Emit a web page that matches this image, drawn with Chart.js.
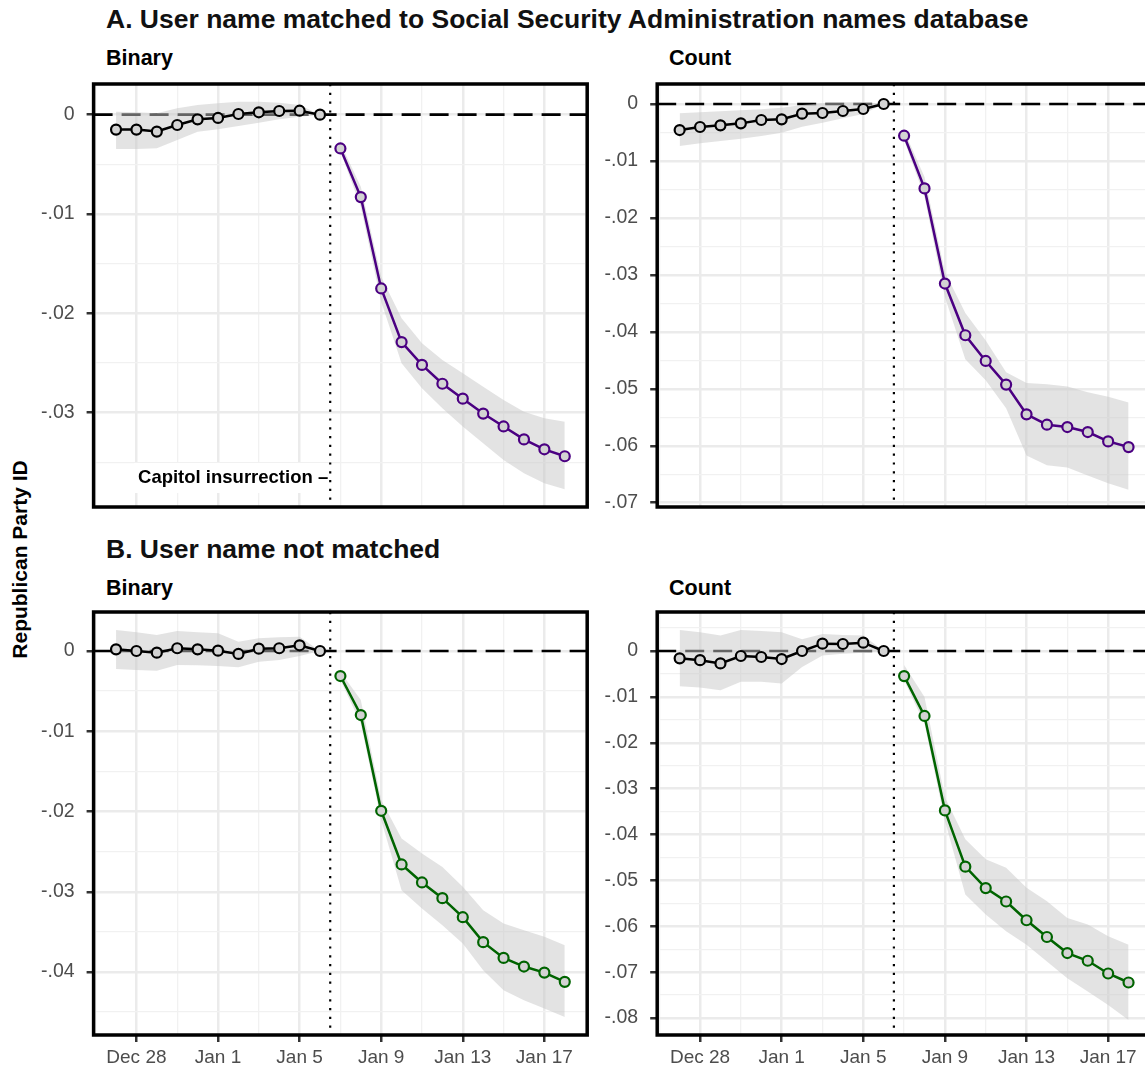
<!DOCTYPE html>
<html>
<head>
<meta charset="utf-8">
<title>Republican Party ID around the Capitol insurrection</title>
<script src="https://cdn.jsdelivr.net/npm/chart.js@4.4.1/dist/chart.umd.min.js"></script>
<style>
  html, body { margin: 0; padding: 0; background: #fff; }
  body { position: relative; width: 1145px; height: 1068px; overflow: hidden;
         font-family: "Liberation Sans", Arial, Helvetica, sans-serif; }
  canvas { position: absolute; }
  .txt { position: absolute; white-space: nowrap; font-weight: bold; color: #111; }
  .title { font-size: 26.5px; line-height: 26.5px; }
  .sub { font-size: 21.5px; line-height: 21.5px; color: #000; }
  .ylab { font-size: 21px; line-height: 21px; width: 300px; text-align: center;
          transform: rotate(-90deg); color: #000; }
</style>
</head>
<body>
<div class="txt title" style="left:106px; top:6px;">A. User name matched to Social Security Administration names database</div>
<div class="txt sub" style="left:106px; top:47.5px;">Binary</div>
<div class="txt sub" style="left:669px; top:47.5px;">Count</div>
<div class="txt title" style="left:106px; top:536px;">B. User name not matched</div>
<div class="txt sub" style="left:106px; top:578px;">Binary</div>
<div class="txt sub" style="left:669px; top:578px;">Count</div>
<div class="txt ylab" style="left:-130.6px; top:548.5px;">Republican Party ID</div>

<canvas id="matchedBinary" width="600" height="480" style="left:0px; top:60px;"></canvas>
<canvas id="matchedCount" width="580" height="480" style="left:590px; top:60px;"></canvas>
<canvas id="unmatchedBinary" width="600" height="490" style="left:0px; top:590px;"></canvas>
<canvas id="unmatchedCount" width="580" height="490" style="left:590px; top:590px;"></canvas>

<script>
// ---- Days on the x axis (one point per day) ----
const days = ['Dec 27', 'Dec 28', 'Dec 29', 'Dec 30', 'Dec 31', 'Jan 1', 'Jan 2', 'Jan 3',
              'Jan 4', 'Jan 5', 'Jan 6', 'Jan 7', 'Jan 8', 'Jan 9', 'Jan 10', 'Jan 11',
              'Jan 12', 'Jan 13', 'Jan 14', 'Jan 15', 'Jan 16', 'Jan 17', 'Jan 18'];
const preDays = days.slice(0, 11);   // Dec 27 – Jan 6
const postDays = days.slice(11);     // Jan 7 – Jan 18
const xTickDays = ['Dec 28', 'Jan 1', 'Jan 5', 'Jan 9', 'Jan 13', 'Jan 17'];
const eventBetween = ['Jan 6', 'Jan 7'];
const eventNote = 'Capitol insurrection –';

// ---- y-axis tick labels per panel ----
const matchedBinaryTicks = [0, -0.01, -0.02, -0.03];
const matchedCountTicks = [0, -0.01, -0.02, -0.03, -0.04, -0.05, -0.06, -0.07];
const unmatchedBinaryTicks = [0, -0.01, -0.02, -0.03, -0.04];
const unmatchedCountTicks = [0, -0.01, -0.02, -0.03, -0.04, -0.05, -0.06, -0.07, -0.08];

// ---- A. matched user names, binary ----
const matchedBinaryPre = [-0.0015, -0.0015, -0.0017, -0.00104, -0.00047, -0.00033, 0.00007, 0.00024, 0.00037, 0.0004, 0];
const matchedBinaryPreLo = [-0.00345, -0.00345, -0.00338, -0.00255, -0.00171, -0.00147, -0.00114, -0.0008, -0.00046, -0.0002, 0];
const matchedBinaryPreHi = [0.0003, 0.00024, 0.00014, 0.00064, 0.00098, 0.00115, 0.00131, 0.00131, 0.00121, 0.00098, 0];
const matchedBinaryPost = [-0.0034, -0.0083, -0.0175, -0.0229, -0.0252, -0.0271, -0.0286, -0.0301, -0.0314, -0.0327, -0.0337, -0.0344];
const matchedBinaryPostLo = [-0.00372, -0.00926, -0.01883, -0.02504, -0.02755, -0.02957, -0.03141, -0.03309, -0.03477, -0.03611, -0.03712, -0.03772];
const matchedBinaryPostHi = [-0.00288, -0.00725, -0.01631, -0.0205, -0.02302, -0.0247, -0.02604, -0.02739, -0.02873, -0.02991, -0.03057, -0.03092];

// ---- A. matched user names, count ----
const matchedCountPre = [-0.00457, -0.00404, -0.00375, -0.0034, -0.00281, -0.00269, -0.0017, -0.00158, -0.00123, -0.00088, 0];
const matchedCountPreLo = [-0.00738, -0.00691, -0.0065, -0.0061, -0.00562, -0.00504, -0.00398, -0.00328, -0.00252, -0.00176, 0];
const matchedCountPreHi = [-0.00164, -0.00146, -0.00129, -0.00111, -0.00094, -0.00064, -0.00018, 0.00012, 0.00029, 0.00035, 0];
const matchedCountPost = [-0.00557, -0.01482, -0.03152, -0.0406, -0.04511, -0.04926, -0.05448, -0.0563, -0.05671, -0.05759, -0.05923, -0.06023];
const matchedCountPostLo = [-0.0063, -0.0163, -0.0339, -0.0448, -0.0485, -0.0534, -0.0617, -0.0634, -0.0638, -0.0652, -0.0666, -0.0677];
const matchedCountPostHi = [-0.0047, -0.0128, -0.0295, -0.0367, -0.0415, -0.0471, -0.049, -0.0492, -0.0496, -0.0506, -0.0514, -0.0524];

// ---- B. unmatched user names, binary ----
const unmatchedBinaryPre = [0.00021, 0, -0.00021, 0.00034, 0.00021, 0.00004, -0.00037, 0.00029, 0.00034, 0.00071, 0];
const unmatchedBinaryPreLo = [-0.00224, -0.00237, -0.00245, -0.00175, -0.00179, -0.00187, -0.00204, -0.00133, -0.00112, -0.00062, 0];
const unmatchedBinaryPreHi = [0.00262, 0.00233, 0.002, 0.00249, 0.00233, 0.00221, 0.00116, 0.00158, 0.00171, 0.00179, 0];
const unmatchedBinaryPost = [-0.00312, -0.00798, -0.01991, -0.0266, -0.02884, -0.0308, -0.03317, -0.03628, -0.03824, -0.03932, -0.04007, -0.04123];
const unmatchedBinaryPostLo = [-0.00362, -0.00902, -0.02107, -0.0298, -0.03209, -0.03416, -0.03645, -0.03978, -0.04227, -0.04352, -0.04456, -0.0456];
const unmatchedBinaryPostHi = [-0.00258, -0.00611, -0.01858, -0.02336, -0.02523, -0.0269, -0.02939, -0.0323, -0.03395, -0.03479, -0.03562, -0.03666];

// ---- B. unmatched user names, count ----
const unmatchedCountPre = [-0.0016, -0.002, -0.0027, -0.00109, -0.00131, -0.00175, 0, 0.0016, 0.00153, 0.00182, 0];
const unmatchedCountPreLo = [-0.00766, -0.00796, -0.00854, -0.00672, -0.00672, -0.00708, -0.0035, -0.001, -0.0006, -0.0004, 0];
const unmatchedCountPreHi = [0.0046, 0.00409, 0.00336, 0.0046, 0.00438, 0.00409, 0.00255, 0.00372, 0.0035, 0.00336, 0];
const unmatchedCountPost = [-0.00547, -0.01416, -0.03474, -0.04701, -0.05168, -0.0546, -0.05869, -0.06234, -0.06584, -0.06752, -0.07029, -0.07226];
const unmatchedCountPostLo = [-0.00635, -0.01584, -0.037, -0.05307, -0.05745, -0.06109, -0.06401, -0.06766, -0.07131, -0.07423, -0.07715, -0.08044];
const unmatchedCountPostHi = [-0.00307, -0.01, -0.0319, -0.04102, -0.0454, -0.04723, -0.05161, -0.05453, -0.05818, -0.05964, -0.06219, -0.06401];

// ---- styling ----
const FONT = '"Liberation Sans", Arial, Helvetica, sans-serif';
const PURPLE = '#4b0082';
const GREEN = '#006400';
const POINT_FILL = '#d3d3d3';
const BAND = 'rgba(200, 200, 200, 0.5)';
const GRID_MAJOR = '#ebebeb';
const GRID_MINOR = '#f1f1f1';
const TICK_TEXT = '#4d4d4d';

Chart.defaults.font.family = FONT;

const dayIndex = d => days.indexOf(d);
const toPoints = (labels, values) => labels.map((d, i) => ({ x: dayIndex(d), y: values[i] }));
const eventX = (dayIndex(eventBetween[0]) + dayIndex(eventBetween[1])) / 2;

// x grid: a major line every four days at the labelled dates, minor lines halfway
const xMajor = xTickDays.map(dayIndex);
const xGrid = [];
for (let v = xMajor[0] - 2; v <= days.length; v += 2) xGrid.push(v);
const xLabelFor = v => { const k = xMajor.indexOf(v); return k >= 0 ? xTickDays[k] : ''; };

function fmtY(v) {
  if (Math.abs(v) < 1e-9) return '0';
  return (v < 0 ? '-' : '') + Math.abs(v).toFixed(2).replace(/^0/, '');
}

// Thick black frame, dashed zero line, dotted event marker, event note
const panelDecor = {
  id: 'panelDecor',
  beforeDatasetsDraw(chart) {
    const { ctx, chartArea: a, scales: { x, y } } = chart;
    ctx.save();
    ctx.beginPath();
    ctx.rect(a.left, a.top, a.width, a.height);
    ctx.clip();
    const y0 = y.getPixelForValue(0);
    ctx.strokeStyle = '#000';
    ctx.lineWidth = 2.7;
    ctx.setLineDash([19, 9]);
    ctx.beginPath();
    ctx.moveTo(a.left, y0);
    ctx.lineTo(a.right, y0);
    ctx.stroke();
    const xe = x.getPixelForValue(eventX);
    ctx.lineWidth = 2.2;
    ctx.setLineDash([2.2, 6.6]);
    ctx.beginPath();
    ctx.moveTo(xe, a.top);
    ctx.lineTo(xe, a.bottom);
    ctx.stroke();
    ctx.restore();
  },
  afterDraw(chart, args, opts) {
    const { ctx, chartArea: a, scales: { x } } = chart;
    ctx.save();
    if (opts.note) {
      const xe = x.getPixelForValue(eventX);
      ctx.font = 'bold 18.5px ' + FONT;
      const w = ctx.measureText(opts.note).width;
      const yc = a.bottom - 29;
      ctx.fillStyle = '#fff';
      ctx.fillRect(xe - 2 - w - 4, yc - 15, w + 4, 30);
      ctx.fillStyle = '#000';
      ctx.textAlign = 'right';
      ctx.textBaseline = 'middle';
      ctx.fillText(opts.note, xe - 2, yc);
    }
    ctx.strokeStyle = '#000';
    ctx.lineWidth = 3.5;
    ctx.setLineDash([]);
    ctx.strokeRect(a.left, a.top, a.width, a.height);
    ctx.restore();
  }
};

function buildPanel(p) {
  const majors = p.ticks.map(v => +v.toFixed(4));
  const isMajorY = v => majors.some(m => Math.abs(m - v) < 1e-7);
  const yGrid = [];
  for (let k = Math.ceil(p.yMin / 0.005 - 1e-9); k * 0.005 <= p.yMax + 1e-12; k++) yGrid.push(+(k * 0.005).toFixed(4));

  const lineSet = (labels, values, color) => ({
    data: toPoints(labels, values),
    borderColor: color,
    borderWidth: 2.5,
    pointRadius: 5,
    pointHoverRadius: 5,
    pointBorderWidth: 2.2,
    pointBackgroundColor: POINT_FILL,
    pointBorderColor: color,
    fill: false,
    tension: 0,
    order: 1
  });
  const bandSet = (labels, values, fill) => ({
    data: toPoints(labels, values),
    borderWidth: 0,
    borderColor: 'rgba(0,0,0,0)',
    backgroundColor: BAND,
    pointRadius: 0,
    pointHoverRadius: 0,
    fill: fill,
    tension: 0,
    order: 3
  });

  return new Chart(document.getElementById(p.id), {
    type: 'line',
    data: {
      datasets: [
        lineSet(preDays, p.pre, '#000'),
        lineSet(postDays, p.post, p.accent),
        bandSet(preDays, p.preHi, '+1'),
        bandSet(preDays, p.preLo, false),
        bandSet(postDays, p.postHi, '+1'),
        bandSet(postDays, p.postLo, false)
      ]
    },
    options: {
      responsive: false,
      animation: false,
      events: [],
      layout: { padding: { top: p.padTop, right: p.padRight, left: 0, bottom: 0 } },
      plugins: {
        legend: { display: false },
        tooltip: { enabled: false },
        panelDecor: { note: p.note || '' }
      },
      scales: {
        x: {
          type: 'linear',
          min: -1.1,
          max: 23.1,
          afterBuildTicks: s => { s.ticks = xGrid.map(v => ({ value: v })); },
          afterFit: s => { s.height = p.xAxisHeight; s.paddingLeft = 0; s.paddingRight = 0; },
          ticks: {
            display: p.showX,
            autoSkip: false,
            maxRotation: 0,
            minRotation: 0,
            padding: 4,
            color: TICK_TEXT,
            font: { size: 19 },
            callback: v => xLabelFor(v)
          },
          grid: {
            drawTicks: p.showX,
            tickLength: 7,
            tickWidth: 2.5,
            tickColor: c => (c.tick && xMajor.includes(c.tick.value)) ? '#333' : 'rgba(0,0,0,0)',
            color: c => (c.tick && xMajor.includes(c.tick.value)) ? GRID_MAJOR : GRID_MINOR,
            lineWidth: c => (c.tick && xMajor.includes(c.tick.value)) ? 2.5 : 1.3
          },
          border: { display: false }
        },
        y: {
          type: 'linear',
          min: p.yMin,
          max: p.yMax,
          afterBuildTicks: s => { s.ticks = yGrid.map(v => ({ value: v })); },
          afterFit: s => { s.width = p.yAxisWidth; s.paddingTop = 0; s.paddingBottom = 0; },
          ticks: {
            autoSkip: false,
            padding: 12,
            color: TICK_TEXT,
            font: { size: 19.5 },
            callback: v => isMajorY(v) ? fmtY(v) : ''
          },
          grid: {
            drawTicks: true,
            tickLength: 7,
            tickWidth: 2.5,
            tickColor: c => (c.tick && isMajorY(c.tick.value)) ? '#333' : 'rgba(0,0,0,0)',
            color: c => (c.tick && isMajorY(c.tick.value)) ? GRID_MAJOR : GRID_MINOR,
            lineWidth: c => (c.tick && isMajorY(c.tick.value)) ? 2.5 : 1.3
          },
          border: { display: false }
        }
      }
    },
    plugins: [panelDecor]
  });
}

buildPanel({
  id: 'matchedBinary', ticks: matchedBinaryTicks, accent: PURPLE, note: eventNote,
  pre: matchedBinaryPre, preLo: matchedBinaryPreLo, preHi: matchedBinaryPreHi,
  post: matchedBinaryPost, postLo: matchedBinaryPostLo, postHi: matchedBinaryPostHi,
  yMin: -0.03951, yMax: 0.00309,
  yAxisWidth: 93.6, padTop: 24, padRight: 12.8, xAxisHeight: 33, showX: false
});
buildPanel({
  id: 'matchedCount', ticks: matchedCountTicks, accent: PURPLE,
  pre: matchedCountPre, preLo: matchedCountPreLo, preHi: matchedCountPreHi,
  post: matchedCountPost, postLo: matchedCountPostLo, postHi: matchedCountPostHi,
  yMin: -0.07075, yMax: 0.00351,
  yAxisWidth: 67.2, padTop: 24, padRight: 19, xAxisHeight: 33, showX: false
});
buildPanel({
  id: 'unmatchedBinary', ticks: unmatchedBinaryTicks, accent: GREEN,
  pre: unmatchedBinaryPre, preLo: unmatchedBinaryPreLo, preHi: unmatchedBinaryPreHi,
  post: unmatchedBinaryPost, postLo: unmatchedBinaryPostLo, postHi: unmatchedBinaryPostHi,
  yMin: -0.04785, yMax: 0.00486,
  yAxisWidth: 93.6, padTop: 22, padRight: 12.8, xAxisHeight: 45, showX: true
});
buildPanel({
  id: 'unmatchedCount', ticks: unmatchedCountTicks, accent: GREEN,
  pre: unmatchedCountPre, preLo: unmatchedCountPreLo, preHi: unmatchedCountPreHi,
  post: unmatchedCountPost, postLo: unmatchedCountPostLo, postHi: unmatchedCountPostHi,
  yMin: -0.0837, yMax: 0.0085,
  yAxisWidth: 67.2, padTop: 22, padRight: 19, xAxisHeight: 45, showX: true
});
</script>
</body>
</html>
